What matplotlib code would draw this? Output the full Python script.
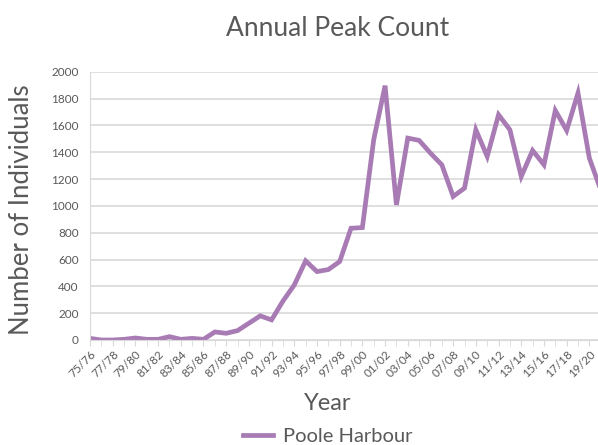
import matplotlib
matplotlib.use("Agg")
import matplotlib.pyplot as plt
import numpy as np

plt.rcParams['font.family'] = ['Lato', 'DejaVu Sans']

# seasons 75/76 .. 20/21
seasons = ['%02d/%02d' % (y % 100, (y + 1) % 100) for y in range(1975, 2021)]
counts = [12, 0, 0, 5, 15, 5, 5, 25, 5, 12,
          5, 60, 50, 70, 125, 180, 150, 290, 410, 590,
          510, 525, 585, 833, 838, 1493, 1896, 1007, 1505, 1488,
          1393, 1306, 1070, 1132, 1567, 1368, 1679, 1567, 1219, 1413,
          1306, 1711, 1562, 1841, 1356, 1120]

gray = '#595959'
purple = '#a87bb5'

W, H = 598, 445
fig = plt.figure(figsize=(W / 100, H / 100), dpi=100)
# plot area runs off the right edge like the reference crop
left, right, top, bottom = 90, 600.7, 71.7, 340
ax = fig.add_axes([left / W, 1 - bottom / H, (right - left) / W, (bottom - top) / H])

x = np.arange(len(seasons))
ax.plot(x, counts, color=purple, lw=3.4, solid_joinstyle='miter', label='Poole Harbour')

ax.set_xlim(0, len(seasons) - 1)
ax.set_ylim(0, 2000)
ax.set_yticks(range(0, 2001, 200))
ax.yaxis.grid(True, color='#d9d9d9', lw=1.2)
ax.set_axisbelow(True)
for s in ['top', 'right']:
    ax.spines[s].set_visible(False)
ax.spines['left'].set_color('#d9d9d9')
ax.spines['bottom'].set_color('#d9d9d9')
ax.tick_params(axis='y', length=0, labelsize=8.5, labelcolor=gray, pad=8)

ax.set_xticks(x[::2])
ax.set_xticklabels(seasons[::2], rotation=45, ha='right', rotation_mode='anchor')
ax.set_xticks(x, minor=True)
ax.tick_params(axis='x', which='both', length=4, color='#d9d9d9', labelsize=8.5,
               labelcolor=gray, pad=2)

fig.text(338 / W, 1 - 28 / H, 'Annual Peak Count', ha='center', va='center',
         fontsize=19, color=gray)
fig.text(22 / W, 1 - 210 / H, 'Number of Individuals', ha='center', va='center',
         rotation=90, fontsize=18.5, color=gray)
fig.text(328 / W, 1 - 404 / H, 'Year', ha='center', va='center',
         fontsize=17, color=gray)

fig.legend(loc='center', bbox_to_anchor=(328 / W, 1 - 436 / H), frameon=False,
           fontsize=14.5, labelcolor=gray, handlelength=1.5, handletextpad=0.5)

fig.savefig('out.png', dpi=100)
